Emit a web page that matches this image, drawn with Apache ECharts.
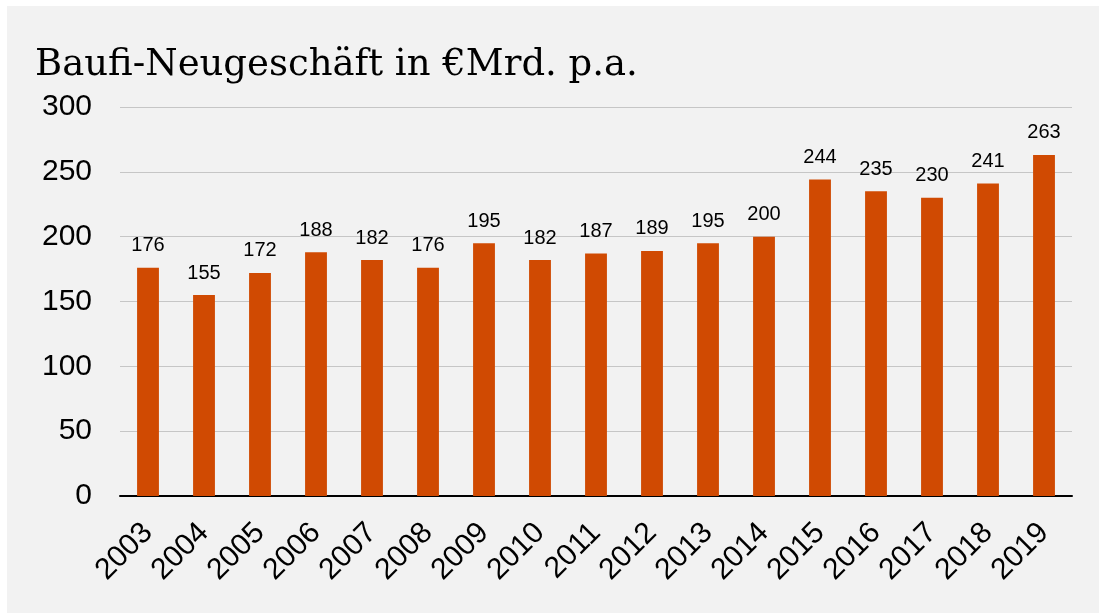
<!DOCTYPE html>
<html lang="de">
<head>
    <meta charset="UTF-8">
    <title>Baufi-Neugeschäft</title>
    <script src="https://cdn.jsdelivr.net/npm/echarts@6/dist/echarts.min.js"></script>
    <style>
        html, body { margin: 0; padding: 0; background: #ffffff; }
        #panel {
            position: absolute; left: 7px; top: 6px;
            width: 1092px; height: 607px;
            background: #f2f2f2;
        }
        #chart { width: 1092px; height: 607px; }
    </style>
</head>
<body>
    <div id="panel"><div id="chart"></div></div>
    <script>
        // Jahre und Neugeschäft in Mrd. Euro
        var years = ['2003', '2004', '2005', '2006', '2007', '2008', '2009', '2010', '2011',
            '2012', '2013', '2014', '2015', '2016', '2017', '2018', '2019'];
        var volumes = [176, 155, 172, 188, 182, 176, 195, 182, 187, 189, 195, 200, 244, 235, 230, 241, 263];
        var yTicks = [0, 50, 100, 150, 200, 250, 300];

        var myChart = echarts.init(document.getElementById('chart'));
        var option = {
            backgroundColor: '#f2f2f2',
            animation: false,
            title: {
                text: 'Baufi-Neugeschäft in €Mrd. p.a.',
                left: 23,
                top: 36,
                textStyle: {
                    fontFamily: 'DejaVu Serif',
                    fontWeight: 'normal',
                    fontSize: 37,
                    color: '#000'
                }
            },
            grid: {
                left: 113,
                right: 27,
                top: 101,
                bottom: 117
            },
            xAxis: {
                type: 'category',
                data: years,
                axisTick: { show: false },
                axisLine: { lineStyle: { color: '#000', width: 2 } },
                axisLabel: {
                    rotate: 45,
                    interval: 0,
                    margin: 32,
                    color: '#000',
                    fontFamily: 'Liberation Sans',
                    fontSize: 30
                }
            },
            yAxis: {
                type: 'value',
                min: yTicks[0],
                max: yTicks[yTicks.length - 1],
                interval: 50,
                axisLine: { show: false },
                axisTick: { show: false },
                splitLine: { lineStyle: { color: '#c6c6c6', width: 1 } },
                axisLabel: {
                    margin: 28,
                    color: '#000',
                    fontFamily: 'Liberation Sans',
                    fontSize: 30
                }
            },
            series: [{
                type: 'bar',
                data: volumes,
                barWidth: '39%',
                itemStyle: { color: '#d04a02' },
                label: {
                    show: true,
                    position: 'top',
                    distance: 12,
                    color: '#000',
                    fontFamily: 'Liberation Sans',
                    fontSize: 20
                }
            }]
        };
        myChart.setOption(option);
    </script>
</body>
</html>
